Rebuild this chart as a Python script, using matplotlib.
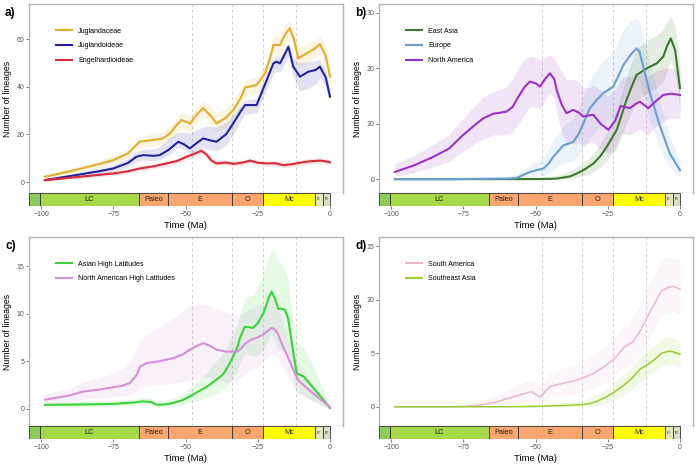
import matplotlib
matplotlib.use("Agg")
import matplotlib.pyplot as plt
from matplotlib.patches import Rectangle

plt.rcParams['font.family'] = ['Liberation Sans', 'DejaVu Sans']

# ---- panel a : Juglandaceae / subfamilies ----
jugl_x = [-98.7, -90, -80, -75, -70, -65.8, -62, -58, -55.4, -53, -51.4, -48.5, -46, -43.9, -41.5, -39.3, -36,
          -33.5, -31, -29.4, -25.4, -22.5, -20.5, -19.6, -17.3, -15.5, -13.9, -12.5, -11, -8.1, -5.5, -3.5, -1.5, 0]
jugl_y = [2.2, 4.5, 7.5, 9.2, 12, 17, 17.5, 18.2, 20.4, 24, 26, 24.6, 28.5, 31, 28, 24.6, 27,
          30.2, 35, 39.7, 40.7, 45.6, 53, 57.5, 57.5, 62, 64.5, 60, 51.9, 54, 55.8, 57.9, 53, 44.2]
jugl_hi = [3.2, 5.8, 9, 11, 14, 19, 20, 21, 23, 27, 29, 28, 32, 34, 32, 29, 31,
           34, 39, 43, 44, 49, 57, 61, 62, 66, 68, 64, 56, 58, 59.5, 61.5, 57, 48]
jugl_lo = [1.2, 3.2, 6, 7.5, 10, 14.5, 15, 15.5, 17.5, 20.5, 22.5, 21, 25, 27.5, 24.5, 21, 23,
           26.5, 31, 36, 37, 42, 49, 53.5, 53, 58, 61, 56, 48, 50, 52, 54, 49, 40.5]

jdoi_x = [-98.7, -90, -80, -75, -70, -67, -64.7, -61, -58.9, -56, -52.5, -50.5, -48.5, -46, -43.9, -41.5, -39.3, -36,
          -33.5, -31, -29.4, -25.4, -21.9, -19.6, -18.5, -17.3, -15.5, -14.4, -12.7, -10.4, -7.5, -5, -3.5, -1.5, 0]
jdoi_y = [0.8, 2.5, 4.5, 5.7, 8, 10.6, 11.3, 11, 11.3, 13.4, 16.9, 15.8, 14.1, 16.5, 18.3, 17.5, 16.9, 20,
          24.6, 29.5, 32.3, 32.3, 42.8, 49.8, 50.5, 49.8, 54, 56.8, 48.4, 44.2, 46.3, 47, 48.4, 44, 35.8]
jdoi_hi = [1.5, 3.3, 5.8, 7.2, 9.8, 12.8, 13.8, 14, 15, 18, 21, 21, 20.5, 22, 23, 23.5, 23, 25,
           28, 32, 34.5, 35, 45, 52, 53, 52.5, 56, 58.5, 52, 50, 50.5, 51, 51.5, 47, 39]
jdoi_lo = [0.2, 1.8, 3.4, 4.4, 6.3, 8.6, 9.2, 9, 9.3, 11, 14.5, 13.5, 11.8, 13, 14.5, 13.5, 13.2, 15.5,
           20, 25.5, 28.5, 29, 39, 45.5, 46.5, 46, 50, 53, 44, 38, 39.5, 41, 43.5, 40, 32.5]

engl_x = [-98.7, -90, -80, -75, -70, -65.8, -61, -56.6, -53, -49.7, -47, -44.5, -42.7, -41, -39.3, -36, -33.5,
          -30, -27.7, -25, -21.9, -19, -16.2, -13, -10.4, -7, -3.5, -1.5, 0]
engl_y = [0.8, 1.8, 3, 3.6, 4.5, 5.7, 6.6, 7.8, 8.8, 10.6, 11.8, 13.1, 11.5, 9, 7.8, 8.2, 7.6,
          8.2, 9, 8.1, 7.8, 7.9, 7.1, 7.5, 8.1, 8.7, 9, 8.7, 8.3]
engl_hi = [1.4, 2.5, 3.8, 4.4, 5.4, 6.7, 7.6, 8.9, 9.9, 11.8, 13, 14.3, 12.7, 10.1, 8.9, 9.3, 8.7,
           9.3, 10.1, 9.2, 8.9, 9, 8.2, 8.6, 9.2, 9.8, 10.1, 9.8, 9.4]
engl_lo = [0.2, 1.1, 2.2, 2.8, 3.6, 4.7, 5.6, 6.7, 7.7, 9.4, 10.6, 11.9, 10.3, 7.9, 6.7, 7.1, 6.5,
           7.1, 7.9, 7, 6.7, 6.8, 6, 6.4, 7, 7.6, 7.9, 7.6, 7.2]

# ---- panel b : continents ----
easia_x = [-98.7, -80, -60, -50, -45, -42.7, -38, -35.8, -33.5, -30, -27.5, -25.4, -21.9, -18.5, -16.5, -15,
           -11.5, -8, -5.8, -4.5, -3.2, -1.7, 0]
easia_y = [0, 0, 0, 0.02, 0.05, 0.1, 0.5, 1.0, 1.6, 2.8, 4.2, 5.8, 8.9, 14.3, 17, 18.8,
           20, 20.9, 22.1, 24, 25.4, 23.3, 16.4]
easia_hi = [0.2, 0.2, 0.2, 0.3, 0.5, 0.7, 1.5, 2.2, 3, 4.5, 6.5, 8.5, 12.5, 18.5, 21.5, 23.5,
            25, 26, 27, 28.5, 29.5, 27.5, 20.5]
easia_lo = [0, 0, 0, 0, 0, 0, 0.1, 0.3, 0.6, 1.3, 2.2, 3.3, 5.5, 10, 12.5, 14.2,
            15.5, 16.5, 17.5, 19.5, 21.5, 19, 12.5]

europe_x = [-98.7, -80, -60, -56.6, -52, -49, -47.3, -45.5, -43.9, -40.4, -37, -35, -33.5, -31.2, -28.5, -26.6,
            -23.1, -21, -19.6, -17, -15, -14, -13.3, -10.4, -6.9, -3.5, 0]
europe_y = [0, 0, 0.1, 0.2, 1.3, 1.7, 1.9, 2.8, 4, 6.1, 6.7, 8.2, 10, 12.8, 14.5, 15.5,
            16.7, 19, 20.6, 22.5, 23.6, 23, 21.5, 15.5, 9.5, 4.6, 1.6]
europe_hi = [0.2, 0.3, 0.5, 0.8, 2.5, 3.5, 4, 5.5, 7, 9.5, 11, 13, 15, 18, 20, 21.5,
             23, 25.5, 27, 28.5, 29, 28.5, 27, 21, 14, 7.5, 3.5]
europe_lo = [0, 0, 0, 0, 0.4, 0.6, 0.7, 1, 1.6, 3, 3.3, 4.4, 5.5, 7.5, 9, 10,
             11, 13, 14.5, 16.5, 18, 17.5, 16, 10.5, 5.5, 2, 0.4]

nam_x = [-98.7, -92, -85.5, -80, -75, -70, -68, -64.7, -62, -60, -58, -56.6, -54, -52, -50, -48.5, -46.5, -45,
         -43.5, -42.7, -41, -39.3, -37, -35, -33.5, -31.5, -30, -27.5, -24.8, -22.5, -20.5, -19.6, -17.3, -15.5,
         -13.9, -11, -8.5, -5.8, -3, 0]
nam_y = [1.3, 2.5, 4, 5.5, 8, 10.2, 11, 11.8, 12, 12.2, 13, 14.3, 16.5, 17.6, 17.3, 16.7, 18.2, 19.1,
         18, 16.1, 13.5, 11.9, 12.5, 12.0, 11.3, 11.5, 11.6, 10, 8.9, 10.5, 13.2, 13.1, 12.8, 13.5,
         14, 12.8, 14, 15.2, 15.4, 15.2]
nam_hi = [2.8, 4.3, 6.2, 8, 11, 13.8, 14.8, 15.8, 16.2, 16.8, 18, 19.5, 21.5, 22.2, 22, 21.5, 22, 22.5,
          22, 21, 19.5, 18, 18, 17.5, 16.5, 16.5, 17, 16, 15, 16, 18, 18.5, 18.5, 19,
          19.5, 18.5, 19.5, 20, 20, 19.5]
nam_lo = [0.5, 1.2, 2.2, 3.2, 5, 6.8, 7.2, 8, 8, 8, 8.5, 9.5, 11.5, 13, 13, 12.8, 14.5, 15.5,
          14.5, 12, 8.5, 6.5, 6.5, 6.5, 6.3, 6.5, 6.6, 5.5, 4.5, 5.5, 8, 8.2, 8, 8.5,
          9, 8, 9.5, 10.5, 11, 11]

# ---- panel c : high latitudes ----
ahl_x = [-98.7, -85, -75, -68, -64.7, -62, -60, -57, -54.3, -51, -48.5, -45, -42.7, -40, -37, -35, -33.5, -32,
         -31.2, -29.5, -28.9, -26.6, -25, -23.1, -21, -20.2, -19, -17.9, -16.5, -15.6, -14.5, -13.9, -12.5,
         -11.5, -9.2, -7.5, -5.8, -3, 0]
ahl_y = [0.4, 0.45, 0.5, 0.65, 0.77, 0.7, 0.42, 0.45, 0.6, 0.9, 1.3, 1.9, 2.3, 2.9, 3.6, 4.6, 5.5, 6.5,
         7.4, 8.6, 8.6, 8.5, 9, 10, 11.8, 12.3, 11.5, 10.5, 10.5, 10.4, 9.5, 8.3, 5.5,
         3.7, 3.4, 2.8, 2.2, 1.2, 0.07]
ahl_hi = [0.7, 0.75, 0.8, 1, 1.2, 1.1, 0.8, 0.9, 1.1, 1.6, 2.2, 3.2, 3.8, 4.8, 5.8, 7, 8, 9,
          10, 11.5, 11.7, 12, 12.8, 14, 16, 16.8, 16.5, 15.5, 15, 14.5, 13.5, 12, 9,
          7, 6.5, 5.5, 4.5, 2.5, 0.3]
ahl_lo = [0.15, 0.2, 0.25, 0.35, 0.45, 0.4, 0.15, 0.15, 0.25, 0.4, 0.6, 0.9, 1.1, 1.5, 2, 2.6, 3.2, 4,
          4.8, 5.8, 5.8, 5.5, 5.6, 6.2, 7.5, 7.8, 7, 6.2, 6.2, 6.3, 5.8, 5, 3,
          1.6, 1.5, 1.1, 0.8, 0.4, 0]

nahl_x = [-98.7, -90, -85.5, -80, -76.2, -72, -69.3, -67, -65.8, -63.5, -61, -58.9, -56, -54.3, -51, -48.5, -46,
          -43.9, -41.5, -39.3, -36, -33.5, -32, -31.2, -29.5, -27.7, -25, -23.1, -21, -20.2, -19, -17.9, -16.5,
          -15, -13, -11, -8.5, -5.8, -3, 0]
nahl_y = [0.94, 1.4, 1.8, 2.0, 2.2, 2.4, 2.7, 3.5, 4.4, 4.8, 4.9, 5.0, 5.2, 5.3, 5.7, 6.2, 6.6,
          6.9, 6.6, 6.2, 6.0, 6.0, 6.0, 6.2, 6.8, 7.2, 7.5, 7.8, 8.3, 8.5, 8.3, 7.8, 6.7,
          5.7, 4.3, 3, 2.3, 1.6, 0.9, 0.17]
nahl_hi = [1.5, 2.2, 2.8, 3.2, 3.6, 4.2, 5, 6.2, 7.2, 7.8, 8.2, 8.6, 9.2, 9.5, 10.2, 10.8, 11,
           11, 10.8, 10.5, 10.2, 10, 9.8, 9.8, 10.2, 10.5, 10.8, 11, 11.5, 11.5, 11.2, 10.5, 9.2,
           8, 6.2, 4.5, 3.5, 2.4, 1.4, 0.3]
nahl_lo = [0.4, 0.7, 1, 1.1, 1.2, 1.3, 1.4, 1.8, 2.2, 2.4, 2.5, 2.5, 2.6, 2.6, 2.8, 3, 3.2,
           3.4, 3.2, 3, 2.8, 2.8, 3, 3.2, 3.6, 4, 4.5, 5, 5.5, 5.8, 5.6, 5.2, 4.4,
           3.6, 2.6, 1.7, 1.2, 0.8, 0.4, 0.05]

# ---- panel d : tropics ----
sam_x = [-98.7, -80, -75, -68, -64, -61.2, -58, -56.6, -53.1, -51.4, -50, -48.5, -47, -45, -42, -40.4, -37,
         -33.5, -30, -26, -23.1, -21, -19.6, -16.2, -13.5, -11.5, -8.1, -6.5, -5.2, -3.5, -2.3, 0]
sam_y = [0, 0, 0.02, 0.2, 0.4, 0.65, 0.9, 1.0, 1.3, 1.4, 1.15, 0.9, 1.3, 1.9, 2.1, 2.2, 2.4,
         2.7, 3.1, 3.8, 4.4, 5.0, 5.5, 6.1, 7.2, 8.3, 10, 10.8, 11, 11.2, 11.25, 11]
sam_hi = [0.05, 0.1, 0.2, 0.6, 1, 1.4, 1.8, 2, 2.4, 2.5, 2.3, 2, 2.5, 3.2, 3.5, 3.6, 3.9,
          4.3, 4.8, 5.6, 6.3, 7, 7.5, 8.5, 9.8, 11, 12.8, 13.6, 13.9, 14, 14, 13.8]
sam_lo = [0, 0, 0, 0, 0.05, 0.15, 0.3, 0.35, 0.5, 0.6, 0.4, 0.3, 0.5, 0.9, 1, 1.1, 1.2,
          1.4, 1.7, 2.2, 2.7, 3.2, 3.6, 4, 5, 6, 7.5, 8.3, 8.6, 8.8, 8.9, 8.6]

sea_x = [-98.7, -75, -60, -49.7, -40, -33.5, -31, -28.9, -26, -23.1, -20, -17.3, -15.5, -13.9, -11.5, -9.8,
         -8, -6.4, -4.5, -3.5, -2, 0]
sea_y = [0, 0, 0, 0.03, 0.12, 0.2, 0.32, 0.5, 0.85, 1.3, 1.9, 2.5, 3.0, 3.5, 3.9, 4.2,
         4.6, 5.0, 5.15, 5.2, 5.1, 4.9]
sea_hi = [0.03, 0.05, 0.1, 0.2, 0.4, 0.6, 0.9, 1.2, 1.6, 2.2, 2.9, 3.5, 4.1, 4.6, 5.1, 5.5,
          5.9, 6.3, 6.5, 6.5, 6.4, 6.2]
sea_lo = [0, 0, 0, 0, 0, 0.02, 0.05, 0.1, 0.3, 0.6, 1.0, 1.5, 1.9, 2.4, 2.8, 3.1,
          3.4, 3.8, 3.9, 4.0, 3.9, 3.7]

# geological time scale (Ma)
geo_starts = [-104.2, -100.5, -66, -56, -33.9, -23.03, -5.333, -2.58]
geo_ends = [-100.5, -66, -56, -33.9, -23.03, -5.333, -2.58, 0]
geo_labels = ['', 'LC', 'Paleo', 'E', 'O', 'Mc', 'Pl', 'Pt']
geo_colors = ['#8CCD57', '#A6D84A', '#F9A66E', '#F9A66E', '#F9A66E', '#FFFF00', '#E6E6BE', '#DCDCCC']
epoch_lines = [-47.8, -33.9, -23.03, -11.63]

W, H = 700, 467
fig = plt.figure(figsize=(W / 100, H / 100), dpi=100)


def px_axes(left, top, right, bottom):
    return fig.add_axes([left / W, 1 - bottom / H, (right - left) / W, (bottom - top) / H])


def draw_panel(left, top, label, ylim, yticks, series, lw=1.5):
    right = left + 314
    bottom = top + 189
    ax = px_axes(left, top, right, bottom)
    ax.set_xlim(-104.2, 4.5)
    ax.set_ylim(*ylim)
    for xv in epoch_lines:
        ax.axvline(xv, color='#CFCFCF', lw=0.7, ls=(0, (3, 3)), zorder=1)
    for x, y, lo, hi, col, name in series:
        ax.fill_between(x, lo, hi, color=col, alpha=0.13, lw=0, zorder=2)
    for x, y, lo, hi, col, name in series:
        ax.plot(x, y, color=col, lw=lw, label=name, zorder=3)
    ax.set_xticks([])
    ax.set_yticks(yticks)
    ax.tick_params(axis='y', labelsize=5.0, colors='#555555', length=2, width=0.5, pad=1.5)
    for s in ax.spines.values():
        s.set_color('#B5B5B5')
        s.set_linewidth(1.0)
    ax.set_ylabel('Number of lineages', fontsize=6.3, labelpad=3)
    leg = ax.legend(loc='upper left', bbox_to_anchor=(0.085, 0.875), frameon=False, fontsize=5.1,
                    handlelength=2.3, handletextpad=0.9, labelspacing=1.1, borderpad=0, borderaxespad=0)
    for h in leg.get_lines():
        h.set_linewidth(1.5)

    gax = px_axes(left, bottom, right, bottom + 13)
    gax.set_xlim(-104.2, 4.5)
    gax.set_ylim(0, 1)
    for s0, s1, name, col in zip(geo_starts, geo_ends, geo_labels, geo_colors):
        gax.add_patch(Rectangle((s0, 0), s1 - s0, 1, facecolor=col, edgecolor='#333333', lw=0.6))
        if name:
            fs = 5.3 if s1 - s0 >= 4 else 2.8
            gax.text((s0 + s1) / 2, 0.5, name, ha='center', va='center', fontsize=fs, color='#222222')
    for s in gax.spines.values():
        s.set_visible(False)
    gax.set_yticks([])
    gax.set_xticks([-100, -75, -50, -25, 0])
    gax.set_xticklabels(['\u2212100', '\u221275', '\u221250', '\u221225', '0'])
    gax.tick_params(axis='x', labelsize=5.0, colors='#555555', length=2, width=0.5, pad=1.5)
    gax.set_xlabel('Time (Ma)', fontsize=6.8, labelpad=2)
    fig.text((left - 24) / W, 1 - (top + 9) / H, label, fontsize=8.5, fontweight='bold', va='center', ha='left')
    return ax


draw_panel(29, 4, 'a)', (-4.6, 74.7), [0, 20, 40, 60], [
    (jugl_x, jugl_y, jugl_lo, jugl_hi, '#E3AE2E', 'Juglandaceae'),
    (jdoi_x, jdoi_y, jdoi_lo, jdoi_hi, '#23239E', 'Juglandoideae'),
    (engl_x, engl_y, engl_lo, engl_hi, '#D92B3A', 'Engelhardioideae'),
])
draw_panel(379, 4, 'b)', (-2.5, 31.6), [0, 10, 20, 30], [
    (easia_x, easia_y, easia_lo, easia_hi, '#3B7A2E', 'East Asia'),
    (europe_x, europe_y, europe_lo, europe_hi, '#6C9DD3', 'Europe'),
    (nam_x, nam_y, nam_lo, nam_hi, '#9A32C6', 'North America'),
])
draw_panel(29, 237, 'c)', (-1.82, 18.05), [0, 5, 10, 15], [
    (ahl_x, ahl_y, ahl_lo, ahl_hi, '#3BD23B', 'Asian High Latitudes'),
    (nahl_x, nahl_y, nahl_lo, nahl_hi, '#D590D8', 'North American High Latitudes'),
])
draw_panel(379, 237, 'd)', (-1.8, 15.87), [0, 5, 10, 15], [
    (sam_x, sam_y, sam_lo, sam_hi, '#EAB8D2', 'South America'),
    (sea_x, sea_y, sea_lo, sea_hi, '#9ACD32', 'Southeast Asia'),
], lw=1.1)

fig.savefig('out.png', dpi=100)
